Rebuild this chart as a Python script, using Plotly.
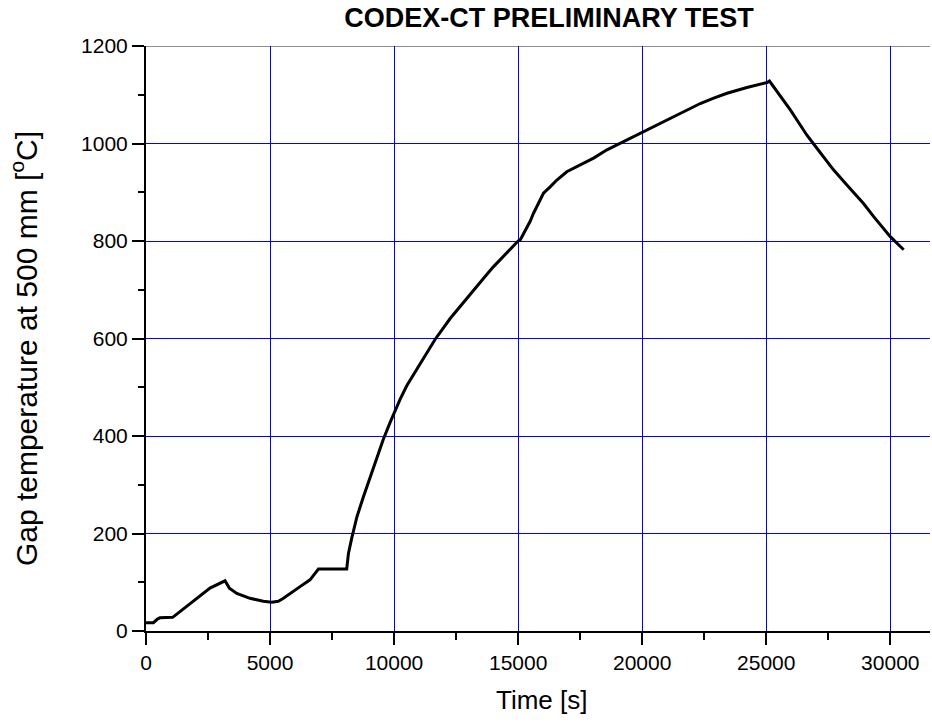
import plotly.graph_objects as go

time_s = [0, 300, 450, 560, 1075, 1800, 2580, 3185, 3360, 3660,
          3925, 4190, 4460, 4730, 5070, 5335, 5540, 5810, 6210, 6610,
          6950, 8090, 8130, 8160, 8290, 8430, 8500, 8760, 9170, 9570,
          9840, 10000, 10240, 10510, 11050, 11650, 12260, 12800, 13200, 13600,
          14000, 14680, 15000, 15080, 15350, 15480, 15620, 15750, 15890, 16020,
          16290, 16560, 16960, 17500, 18040, 18580, 19250, 19650, 20010, 21000,
          21670, 22340, 22880, 23420, 24220, 25030, 25130, 25700, 25970, 26370,
          26640, 26910, 27310, 27710, 28250, 28920, 29330, 30000, 30540]
temp_c = [17, 17, 24, 27, 28, 57, 88, 103, 88, 77,
          72, 67, 64, 61, 59, 61, 67, 76, 91, 105,
          127, 127, 150, 159, 190, 221, 234, 275, 337, 394,
          428, 447, 475, 503, 549, 598, 641, 675, 699, 723,
          747, 783, 800, 802, 826, 840, 857, 870, 884, 898,
          911, 925, 942, 956, 970, 987, 1004, 1014, 1024, 1048,
          1065, 1082, 1093, 1103, 1115, 1125, 1128, 1089, 1069, 1038,
          1017, 999, 973, 946, 915, 877, 850, 809, 782]

x_ticks = [0, 5000, 10000, 15000, 20000, 25000, 30000]
y_ticks = [0, 200, 400, 600, 800, 1000, 1200]

FONT = "Arial, Liberation Sans, sans-serif"

fig = go.Figure()
fig.add_trace(go.Scatter(x=time_s, y=temp_c, mode="lines",
                         line=dict(color="black", width=3), showlegend=False))

fig.update_layout(
    width=932, height=727,
    margin=dict(l=146, r=2, t=46, b=96),
    paper_bgcolor="white", plot_bgcolor="white",
    font=dict(family=FONT, color="black", size=21),
    title=dict(text="<b>CODEX-CT PRELIMINARY TEST</b>", x=0.514, xanchor="center",
               xref="paper", y=1 - 18 / 727, yref="container", yanchor="middle",
               font=dict(size=27, family=FONT, color="black")),
)

fig.update_xaxes(range=[0, 31600], tickvals=x_ticks, ticktext=[str(v) for v in x_ticks],
                 showgrid=True, gridcolor="#0000ff", gridwidth=1,
                 showline=True, linecolor="black", linewidth=2,
                 ticks="outside", ticklen=12, tickwidth=2, tickcolor="black",
                 minor=dict(dtick=2500, tick0=0, ticks="outside", ticklen=7, tickwidth=2,
                            tickcolor="black", showgrid=False),
                 zeroline=False, tickfont=dict(size=21))
fig.update_yaxes(range=[0, 1200], tickvals=y_ticks, ticktext=[str(v) for v in y_ticks],
                 showgrid=True, gridcolor="#0000ff", gridwidth=1,
                 showline=True, linecolor="black", linewidth=2,
                 ticks="outside", ticklen=12, tickwidth=2, tickcolor="black",
                 minor=dict(dtick=100, tick0=0, ticks="outside", ticklen=6, tickwidth=2,
                            tickcolor="black", showgrid=False),
                 zeroline=False, tickfont=dict(size=21))

fig.add_shape(type="line", xref="paper", yref="y", x0=0, x1=1, y0=1200, y1=1200,
              line=dict(color="#222222", width=1), layer="above")

fig.add_annotation(text="Time [s]", xref="paper", yref="paper", x=0.504, y=-0.118,
                   xanchor="center", yanchor="middle", showarrow=False,
                   font=dict(size=26, family=FONT, color="black"))
fig.add_annotation(text="Gap temperature at 500 mm [<sup>o</sup>C]", xref="paper", yref="paper",
                   x=-0.1555, y=0.482, xanchor="center", yanchor="middle", textangle=-90,
                   showarrow=False, font=dict(size=30, family=FONT, color="black"))

fig.write_html("out.html")
